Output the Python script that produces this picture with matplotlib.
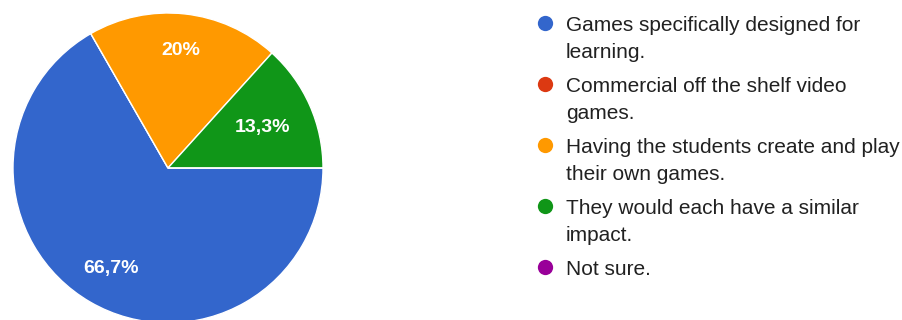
from matplotlib import pyplot as plt
import numpy as np

# survey answers and their shares (%)
answers = [['Games specifically designed for', 'learning.'],
           ['Commercial off the shelf video', 'games.'],
           ['Having the students create and play', 'their own games.'],
           ['They would each have a similar', 'impact.'],
           ['Not sure.']]
shares = [66.7, 0, 20, 13.3, 0]
colors = ['#3366cc', '#dc3912', '#ff9900', '#109618', '#990099']

plt.rcParams['font.family'] = ['Liberation Sans', 'DejaVu Sans']

W, H = 903, 320
fig = plt.figure(figsize=(W / 100, H / 100), dpi=100)

# pie, centre (168, 168) px, radius 155 px
r = 155
ax = fig.add_axes([(168 - r) / W, (H - 168 - r) / H, 2 * r / W, 2 * r / H])
wedges, _ = ax.pie(shares, colors=colors, startangle=0, counterclock=False,
                   radius=1, wedgeprops=dict(edgecolor='white', linewidth=1))
ax.set_xlim(-1, 1)
ax.set_ylim(-1, 1)
ax.set_aspect('equal')
ax.axis('off')
for w in wedges:
    w.set_clip_on(False)

# percentage labels inside the slices
label_dist = [0.74, 0, 0.77, 0.67, 0]
for w, s, d in zip(wedges, shares, label_dist):
    if s == 0:
        continue
    mid = np.deg2rad((w.theta1 + w.theta2) / 2)
    txt = ('%.1f' % s).rstrip('0').rstrip('.').replace('.', ',') + '%'
    ax.text(d * np.cos(mid), d * np.sin(mid) - 0.01, txt, color='white',
            fontsize=14, fontweight='bold', ha='center', va='center')

# legend on the right, in pixel coordinates
lg = fig.add_axes([0, 0, 1, 1])
lg.set_xlim(0, W)
lg.set_ylim(H, 0)
lg.axis('off')
for i, (lines, c) in enumerate(zip(answers, colors)):
    base = 31 + i * 61
    lg.plot(545, base - 8, 'o', color=c, markersize=11, markeredgewidth=0)
    for j, line in enumerate(lines):
        lg.text(566, base + j * 27, line, fontsize=15, color='#212121',
                ha='left', va='baseline')

fig.savefig('out.png', dpi=100)
